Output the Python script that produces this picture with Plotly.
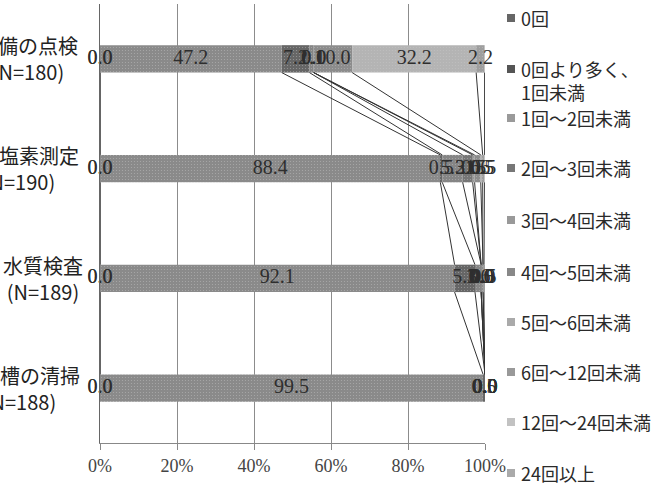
import plotly.graph_objects as go

# ---- data ----
categories = ["設備の点検<br>(N=180)", "残留塩素測定<br>(N=190)", "水質検査<br>(N=189)", "貯水槽の清掃<br>(N=188)"]
series_names = ["0回", "0回より多く、<br>1回未満", "1回～2回未満", "2回～3回未満", "3回～4回未満",
                "4回～5回未満", "5回～6回未満", "6回～12回未満", "12回～24回未満", "24回以上"]
s_0 = [0.0, 0.0, 0.0, 0.0]
s_0_1 = [0.0, 0.0, 0.0, 0.0]
s_1_2 = [47.2, 88.4, 92.1, 99.5]
s_2_3 = [7.2, 0.5, 5.3, 0.5]
s_3_4 = [1.1, 5.3, 1.6, 0.0]
s_4_5 = [0.0, 2.6, 0.0, 0.0]
s_5_6 = [0.0, 0.5, 0.0, 0.0]
s_6_12 = [10.0, 1.6, 0.5, 0.0]
s_12_24 = [32.2, 0.5, 0.0, 0.0]
s_24 = [2.2, 0.5, 0.5, 0.0]
x_ticks = [0, 20, 40, 60, 80, 100]
x_tick_labels = ["0%", "20%", "40%", "60%", "80%", "100%"]

series_values = [s_0, s_0_1, s_1_2, s_2_3, s_3_4, s_4_5, s_5_6, s_6_12, s_12_24, s_24]

# ---- styles ----
bar_colors = ["#5a5a5a", "#4c4c4c", "#8a8a8a", "#666666", "#858585",
              "#767676", "#969696", "#8c8c8c", "#b4b4b4", "#9e9e9e"]
legend_colors = ["#666666", "#555555", "#9a9a9a", "#777777", "#999999",
                 "#888888", "#aaaaaa", "#999999", "#c2c2c2", "#aaaaaa"]
num_font = "Liberation Serif, DejaVu Serif, serif"
jp_font = "Noto Sans CJK JP"

W, H = 660, 489
L, R, T, B = 100, 175, 4, 46
PW, PH = W - L - R, H - T - B


def px_x(px):
    return (px - L) / PW


def px_y(py):
    return (H - B - py) / PH


ypos = list(range(len(categories)))
bar_w = 0.25

fig = go.Figure()

cum = [[0.0] * len(categories)]
for vals in series_values:
    cum.append([c + v for c, v in zip(cum[-1], vals)])

for i, (name, vals) in enumerate(zip(series_names, series_values)):
    fig.add_trace(go.Bar(
        x=vals, y=ypos, orientation="h", width=bar_w, name=name,
        base=cum[i],
        marker=dict(color=bar_colors[i], line=dict(width=0),
                    pattern=dict(shape=".", fgcolor="#c8c8c8", size=3, solidity=0.12)),
        showlegend=False, hoverinfo="skip"))

# series lines (connect segment ends between adjacent bars)
lx, ly = [], []
for i in range(1, len(cum)):
    for k in range(len(categories) - 1):
        lx += [cum[i][k], cum[i][k + 1], None]
        ly += [k + bar_w / 2, k + 1 - bar_w / 2, None]
fig.add_trace(go.Scatter(x=lx, y=ly, mode="lines", line=dict(color="#333333", width=1),
                         showlegend=False, hoverinfo="skip"))

# data labels
for i, vals in enumerate(series_values):
    mids = [c + v / 2 for c, v in zip(cum[i], vals)]
    fig.add_trace(go.Scatter(
        x=mids, y=ypos, mode="text", text=[f"{v:.1f}" for v in vals],
        textposition="middle center", cliponaxis=False,
        textfont=dict(family=num_font, size=20, color="#2e2e2e"),
        showlegend=False, hoverinfo="skip"))

annotations = []
# category labels (centered, cropped at the left edge like the reference)
label_centers_px = [28, 19, 43, 20]
for k, (cat, c) in enumerate(zip(categories, label_centers_px)):
    annotations.append(dict(
        x=px_x(c), xref="paper", y=k, yref="y", text=cat, showarrow=False,
        xanchor="center", yanchor="middle", align="center",
        font=dict(family=jp_font, size=20, color="#222222")))

# manual legend
legend_y_px = [18, 80.5, 118, 168, 220, 272, 322, 372, 422, 473]
legend_sq_y_px = [18, 69, 118, 168, 220, 272, 322, 372, 422, 473]
shapes = []
for i, name in enumerate(series_names):
    sy = legend_sq_y_px[i]
    shapes.append(dict(type="rect", xref="paper", yref="paper",
                       x0=px_x(507), x1=px_x(515), y0=px_y(sy + 4), y1=px_y(sy - 4),
                       fillcolor=legend_colors[i], line=dict(width=0)))
    annotations.append(dict(
        x=px_x(519), xref="paper", y=px_y(legend_y_px[i]), yref="paper", text=name,
        showarrow=False, xanchor="left", yanchor="middle", align="left",
        font=dict(family=jp_font, size=18, color="#2a2a2a")))

fig.update_layout(
    width=W, height=H, margin=dict(l=L, r=R, t=T, b=B),
    paper_bgcolor="white", plot_bgcolor="white",
    barmode="overlay", showlegend=False,
    annotations=annotations, shapes=shapes,
    xaxis=dict(range=[0, 100], tickvals=x_ticks, ticktext=x_tick_labels,
               showgrid=True, gridcolor="#8c8c8c", gridwidth=1,
               ticks="outside", ticklen=6, tickcolor="#888888",
               showline=True, linecolor="#888888", linewidth=1, zeroline=False,
               tickfont=dict(family=num_font, size=18, color="#444444")),
    yaxis=dict(range=[3.5, -0.5], showticklabels=False, showgrid=False, zeroline=False,
               showline=True, linecolor="#666666", linewidth=1),
)

fig.write_html("out.html")
